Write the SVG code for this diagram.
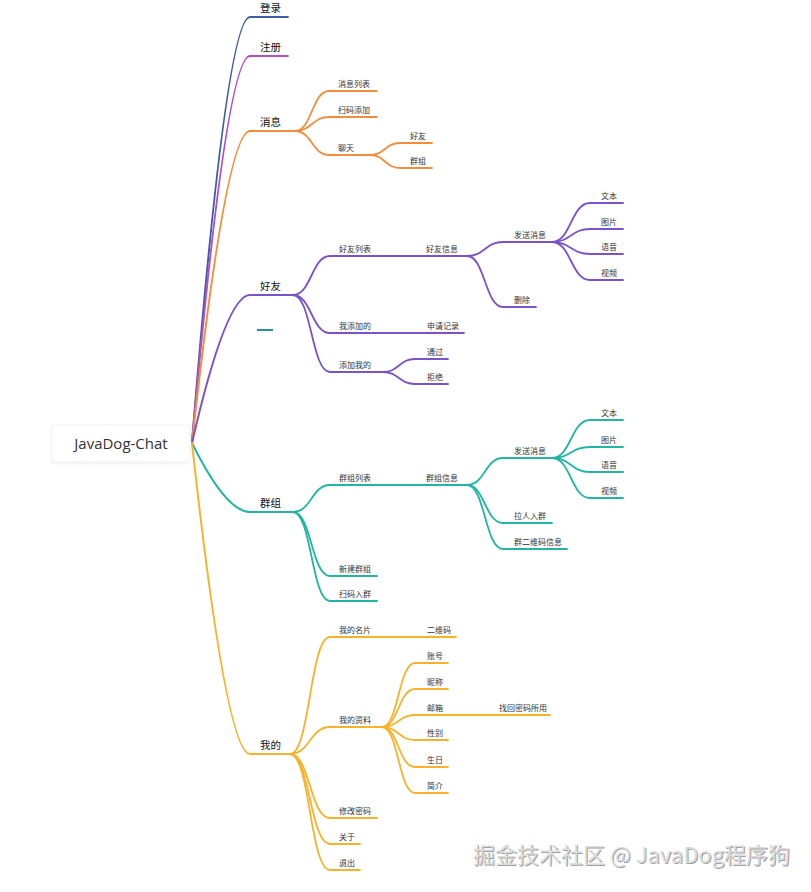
<svg xmlns="http://www.w3.org/2000/svg" width="811" height="892" viewBox="0 0 811 892">
<defs>
<style>
.c{fill:none;stroke-width:1.8;stroke-linecap:round}
.m{fill:none;stroke-width:2;stroke-linecap:round}
.u{stroke-width:1.8;stroke-linecap:round}
.t1{font-family:"Noto Sans CJK SC","Microsoft YaHei",sans-serif;font-size:10.5px;fill:#111}
.t2{font-family:"Noto Sans CJK SC","Microsoft YaHei",sans-serif;font-size:8px;fill:#333}
.B{stroke:#3d5da8}.M{stroke:#b24fc5}.O{stroke:#f18d3b}.P{stroke:#7b52c8}.T{stroke:#22b5a4}.Y{stroke:#f7b22c}
</style>
<filter id="sh" x="-10%" y="-20%" width="120%" height="150%">
<feDropShadow dx="0" dy="1" stdDeviation="1" flood-color="#000" flood-opacity="0.08"/>
</filter>
</defs>
<rect width="811" height="892" fill="#fff"/>

<g id="connectors">
<path class="m B" d="M192,443 Q226,17 250,17"/>
<path class="m M" d="M192,443 Q226,56 250,56"/>
<path class="m O" d="M192,443 Q226,131 250,131"/>
<path class="m P" d="M192,443 Q226,295 250,295"/>
<path class="m T" d="M192,443 Q226,512 250,512"/>
<path class="m Y" d="M192,443 Q226,754 250,754"/>

<path class="c O" d="M295,131 C312,131 312,91 329,91"/>
<path class="c O" d="M295,131 C312,131 312,117 329,117"/>
<path class="c O" d="M295,131 C312,131 312,155 329,155"/>
<path class="c O" d="M370,155 C385,155 385,143 400,143"/>
<path class="c O" d="M370,155 C385,155 385,168 400,168"/>

<path class="c P" d="M293,295 C311.5,295 311.5,256 330,256"/>
<path class="c P" d="M293,295 C311.5,295 311.5,333 330,333"/>
<path class="c P" d="M293,295 C311.5,295 311.5,372 330,372"/>
<path class="c P" d="M467,256 C485,256 485,242 503,242"/>
<path class="c P" d="M467,256 C485,256 485,307 503,307"/>
<path class="c P" d="M552,242 C571,242 571,203 590,203"/>
<path class="c P" d="M552,242 C571,242 571,229 590,229"/>
<path class="c P" d="M552,242 C571,242 571,254 590,254"/>
<path class="c P" d="M552,242 C571,242 571,280 590,280"/>
<path class="c P" d="M383,372 C399,372 399,359 415,359"/>
<path class="c P" d="M383,372 C399,372 399,384 415,384"/>

<path class="c T" d="M293,512 C311.5,512 311.5,485 330,485"/>
<path class="c T" d="M293,512 C311.5,512 311.5,576 330,576"/>
<path class="c T" d="M293,512 C311.5,512 311.5,601 330,601"/>
<path class="c T" d="M467,485 C485,485 485,458 503,458"/>
<path class="c T" d="M467,485 C485,485 485,523 503,523"/>
<path class="c T" d="M467,485 C485,485 485,549 503,549"/>
<path class="c T" d="M552,458 C571,458 571,420 590,420"/>
<path class="c T" d="M552,458 C571,458 571,447 590,447"/>
<path class="c T" d="M552,458 C571,458 571,472 590,472"/>
<path class="c T" d="M552,458 C571,458 571,498 590,498"/>

<path class="c Y" d="M290,754 C310,754 310,637 330,637"/>
<path class="c Y" d="M290,754 C310,754 310,727 330,727"/>
<path class="c Y" d="M290,754 C310,754 310,818 330,818"/>
<path class="c Y" d="M290,754 C310,754 310,844 330,844"/>
<path class="c Y" d="M290,754 C310,754 310,870 330,870"/>
<path class="c Y" d="M382,727 C398.5,727 398.5,663 415,663"/>
<path class="c Y" d="M382,727 C398.5,727 398.5,689 415,689"/>
<path class="c Y" d="M382,727 C398.5,727 398.5,715 415,715"/>
<path class="c Y" d="M382,727 C398.5,727 398.5,740 415,740"/>
<path class="c Y" d="M382,727 C398.5,727 398.5,767 415,767"/>
<path class="c Y" d="M382,727 C398.5,727 398.5,793 415,793"/>
</g>

<g id="root">
<rect x="52" y="425" width="138" height="37" rx="3" fill="#fff" stroke="#f2f2f2" filter="url(#sh)"/>
<text x="121" y="449" text-anchor="middle" font-family="'Segoe UI','Open Sans','Noto Sans',sans-serif" font-size="15" fill="#333">JavaDog-Chat</text>
</g>

<g id="n-login"><line class="u B" x1="250" y1="17" x2="288" y2="17"/><text class="t1" x="260" y="12">登录</text></g>
<g id="n-register"><line class="u M" x1="250" y1="56" x2="288" y2="56"/><text class="t1" x="260" y="51">注册</text></g>
<g id="n-msg"><line class="u O" x1="250" y1="131" x2="295" y2="131"/><text class="t1" x="260" y="126">消息</text></g>
<g id="n-msglist"><line class="u O" x1="329" y1="91" x2="377" y2="91"/><text class="t2" x="338" y="87">消息列表</text></g>
<g id="n-scanadd"><line class="u O" x1="329" y1="117" x2="377" y2="117"/><text class="t2" x="338" y="113">扫码添加</text></g>
<g id="n-chat"><line class="u O" x1="329" y1="155" x2="370" y2="155"/><text class="t2" x="338" y="151">聊天</text></g>
<g id="n-chat-friend"><line class="u O" x1="400" y1="143" x2="432" y2="143"/><text class="t2" x="410" y="139">好友</text></g>
<g id="n-chat-group"><line class="u O" x1="400" y1="168" x2="432" y2="168"/><text class="t2" x="410" y="164">群组</text></g>

<g id="n-friend"><line class="u P" x1="250" y1="295" x2="293" y2="295"/><text class="t1" x="260" y="290">好友</text></g>
<g id="n-dash"><line x1="257" y1="330" x2="273" y2="330" stroke="#2b8ca8" stroke-width="2"/></g>
<g id="n-friendlist"><line class="u P" x1="330" y1="256" x2="425" y2="256"/><text class="t2" x="339" y="252">好友列表</text></g>
<g id="n-friendinfo"><line class="u P" x1="425" y1="256" x2="467" y2="256"/><text class="t2" x="426" y="252">好友信息</text></g>
<g id="n-f-send"><line class="u P" x1="503" y1="242" x2="552" y2="242"/><text class="t2" x="514" y="238">发送消息</text></g>
<g id="n-f-text"><line class="u P" x1="590" y1="203" x2="623" y2="203"/><text class="t2" x="601" y="199">文本</text></g>
<g id="n-f-img"><line class="u P" x1="590" y1="229" x2="623" y2="229"/><text class="t2" x="601" y="225">图片</text></g>
<g id="n-f-voice"><line class="u P" x1="590" y1="254" x2="623" y2="254"/><text class="t2" x="601" y="250">语音</text></g>
<g id="n-f-video"><line class="u P" x1="590" y1="280" x2="623" y2="280"/><text class="t2" x="601" y="276">视频</text></g>
<g id="n-f-del"><line class="u P" x1="503" y1="307" x2="536" y2="307"/><text class="t2" x="514" y="303">删除</text></g>
<g id="n-myadd"><line class="u P" x1="330" y1="333" x2="417" y2="333"/><text class="t2" x="339" y="329">我添加的</text></g>
<g id="n-applylog"><line class="u P" x1="417" y1="333" x2="464" y2="333"/><text class="t2" x="427" y="329">申请记录</text></g>
<g id="n-addme"><line class="u P" x1="330" y1="372" x2="383" y2="372"/><text class="t2" x="339" y="368">添加我的</text></g>
<g id="n-pass"><line class="u P" x1="415" y1="359" x2="448" y2="359"/><text class="t2" x="427" y="355">通过</text></g>
<g id="n-reject"><line class="u P" x1="415" y1="384" x2="448" y2="384"/><text class="t2" x="427" y="380">拒绝</text></g>

<g id="n-group"><line class="u T" x1="250" y1="512" x2="293" y2="512"/><text class="t1" x="260" y="507">群组</text></g>
<g id="n-grouplist"><line class="u T" x1="330" y1="485" x2="417" y2="485"/><text class="t2" x="339" y="481">群组列表</text></g>
<g id="n-groupinfo"><line class="u T" x1="417" y1="485" x2="467" y2="485"/><text class="t2" x="426" y="481">群组信息</text></g>
<g id="n-g-send"><line class="u T" x1="503" y1="458" x2="552" y2="458"/><text class="t2" x="514" y="454">发送消息</text></g>
<g id="n-g-text"><line class="u T" x1="590" y1="420" x2="623" y2="420"/><text class="t2" x="601" y="416">文本</text></g>
<g id="n-g-img"><line class="u T" x1="590" y1="447" x2="623" y2="447"/><text class="t2" x="601" y="443">图片</text></g>
<g id="n-g-voice"><line class="u T" x1="590" y1="472" x2="623" y2="472"/><text class="t2" x="601" y="468">语音</text></g>
<g id="n-g-video"><line class="u T" x1="590" y1="498" x2="623" y2="498"/><text class="t2" x="601" y="494">视频</text></g>
<g id="n-pull"><line class="u T" x1="503" y1="523" x2="552" y2="523"/><text class="t2" x="514" y="519">拉人入群</text></g>
<g id="n-gqr"><line class="u T" x1="503" y1="549" x2="567" y2="549"/><text class="t2" x="514" y="545">群二维码信息</text></g>
<g id="n-newgroup"><line class="u T" x1="330" y1="576" x2="377" y2="576"/><text class="t2" x="339" y="572">新建群组</text></g>
<g id="n-scanjoin"><line class="u T" x1="330" y1="601" x2="377" y2="601"/><text class="t2" x="339" y="597">扫码入群</text></g>

<g id="n-mine"><line class="u Y" x1="250" y1="754" x2="290" y2="754"/><text class="t1" x="260" y="749">我的</text></g>
<g id="n-card"><line class="u Y" x1="330" y1="637" x2="417" y2="637"/><text class="t2" x="339" y="633">我的名片</text></g>
<g id="n-qr"><line class="u Y" x1="417" y1="637" x2="456" y2="637"/><text class="t2" x="427" y="633">二维码</text></g>
<g id="n-profile"><line class="u Y" x1="330" y1="727" x2="382" y2="727"/><text class="t2" x="339" y="723">我的资料</text></g>
<g id="n-account"><line class="u Y" x1="415" y1="663" x2="448" y2="663"/><text class="t2" x="427" y="659">账号</text></g>
<g id="n-nick"><line class="u Y" x1="415" y1="689" x2="448" y2="689"/><text class="t2" x="427" y="685">昵称</text></g>
<g id="n-mail"><line class="u Y" x1="415" y1="715" x2="490" y2="715"/><text class="t2" x="427" y="711">邮箱</text></g>
<g id="n-recover"><line class="u Y" x1="490" y1="715" x2="550" y2="715"/><text class="t2" x="499" y="711">找回密码所用</text></g>
<g id="n-gender"><line class="u Y" x1="415" y1="740" x2="448" y2="740"/><text class="t2" x="427" y="736">性别</text></g>
<g id="n-birth"><line class="u Y" x1="415" y1="767" x2="448" y2="767"/><text class="t2" x="427" y="763">生日</text></g>
<g id="n-intro"><line class="u Y" x1="415" y1="793" x2="448" y2="793"/><text class="t2" x="427" y="789">简介</text></g>
<g id="n-pwd"><line class="u Y" x1="330" y1="818" x2="377" y2="818"/><text class="t2" x="339" y="814">修改密码</text></g>
<g id="n-about"><line class="u Y" x1="330" y1="844" x2="360" y2="844"/><text class="t2" x="339" y="840">关于</text></g>
<g id="n-exit"><line class="u Y" x1="330" y1="870" x2="360" y2="870"/><text class="t2" x="339" y="866">退出</text></g>

<g id="watermark" font-family="'Noto Sans CJK SC','Microsoft YaHei',sans-serif" font-size="22">
<text x="474" y="864" fill="#a0a0a0">掘金技术社区 @ JavaDog程序狗</text>
<text x="473" y="863" fill="#dcdcdc">掘金技术社区 @ JavaDog程序狗</text>
</g>
</svg>
